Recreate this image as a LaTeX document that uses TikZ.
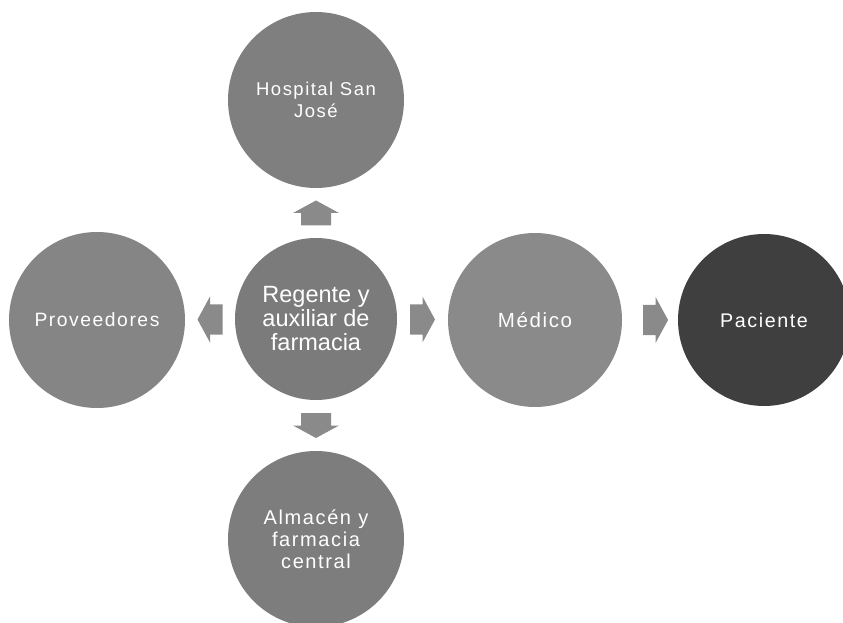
\documentclass[tikz,border=0pt]{standalone}
\usepackage{fontspec}
\setmainfont{Liberation Sans}
\newfontfamily\spaced[LetterSpace=8]{Liberation Sans}
\usetikzlibrary{calc}
\definecolor{cHosp}{HTML}{7F7F7F}
\definecolor{cReg}{HTML}{7B7B7B}
\definecolor{cProv}{HTML}{858585}
\definecolor{cMed}{HTML}{8A8A8A}
\definecolor{cPac}{HTML}{3F3F3F}
\definecolor{cAlm}{HTML}{7D7D7D}
\definecolor{cArr}{HTML}{8A8A8A}
\tikzset{
  circ/.style={circle, inner sep=0pt, text=white, align=center},
  blkarrow/.pic={\fill[cArr] (-12.5,-15) -- (0,-15) -- (0,-23) -- (12.5,0) -- (0,23) -- (0,15) -- (-12.5,15) -- cycle;}
}
\begin{document}
\begin{tikzpicture}[x=1pt,y=1pt]
\useasboundingbox (0,0) rectangle (843,622);
\node[circ, fill=cHosp, minimum size=176pt, font=\spaced\fontsize{18.5}{22}\selectfont] (hosp) at (316,522) {Hospital San\\José};
\node[circ, fill=cReg, minimum size=162pt, font=\fontsize{23.5}{24}\selectfont] (reg) at (316,303) {Regente y\\auxiliar de\\farmacia};
\node[circ, fill=cProv, minimum size=176pt, font=\spaced\fontsize{19.3}{22}\selectfont] (prov) at (97,302) {Proveedores};
\node[circ, fill=cMed, minimum size=174pt, font=\spaced\fontsize{20.5}{22}\selectfont] (med) at (535,302) {Médico};
\node[circ, fill=cPac, minimum size=172pt, font=\spaced\fontsize{19.7}{22}\selectfont] (pac) at (764,302) {Paciente};
\node[circ, fill=cAlm, minimum size=176pt, font=\spaced\fontsize{20}{22}\selectfont] (alm) at (316,83) {Almacén y\\farmacia\\central};
\path ($(reg.north)!0.5!(hosp.south)$) pic[rotate=90] {blkarrow};
\path ($(reg.south)!0.5!(alm.north)$) pic[rotate=-90] {blkarrow};
\path ($(reg.west)!0.5!(prov.east)$) pic[rotate=180] {blkarrow};
\path ($(reg.east)!0.5!(med.west)$) pic {blkarrow};
\path ($(med.east)!0.6!(pac.west)$) pic {blkarrow};
\end{tikzpicture}
\end{document}
